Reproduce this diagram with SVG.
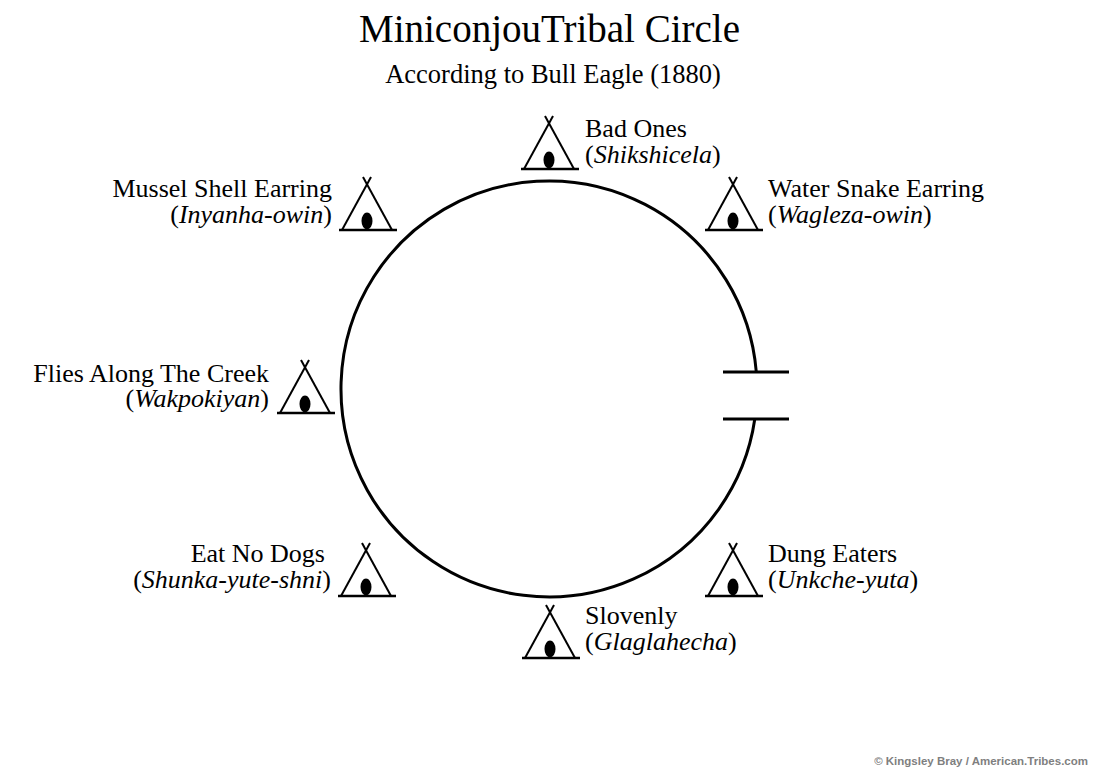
<svg xmlns="http://www.w3.org/2000/svg" width="1100" height="778" viewBox="0 0 1100 778">
<defs>
<style>
.t{font-family:"Liberation Serif","Times New Roman",serif;fill:#000;}
.lab{font-size:26px;}
.title{font-size:39px;}
.sub{font-size:26.5px;}
.pole{stroke:#000;stroke-width:2;fill:none;}
.base{stroke:#000;stroke-width:2.6;fill:none;}
.copy{font-family:"Liberation Sans",Arial,sans-serif;font-weight:bold;font-size:11.5px;fill:#7f7f7f;}
</style>
<g id="tipi">
<line class="pole" x1="-25" y1="0" x2="4" y2="-53"/>
<line class="pole" x1="25" y1="0" x2="-4" y2="-53"/>
<line class="base" x1="-28" y1="0" x2="30" y2="0"/>
<ellipse cx="0" cy="-9" rx="5.5" ry="8.5" fill="#000"/>
</g>
</defs>
<rect width="1100" height="778" fill="#fff"/>
<text class="t title" x="549.5" y="42" text-anchor="middle">MiniconjouTribal Circle</text>
<text class="t sub" x="553" y="83" text-anchor="middle">According to Bull Eagle (1880)</text>
<g id="connectors">
<path d="M 756.3 372 A 208 208 0 1 0 754.8 419" fill="none" stroke="#000" stroke-width="3"/>
<line x1="723" y1="372" x2="789" y2="372" stroke="#000" stroke-width="3"/>
<line x1="723" y1="419" x2="789" y2="419" stroke="#000" stroke-width="3"/>
</g>
<g id="bad-ones">
<use href="#tipi" x="549" y="169"/>
<text class="t lab" x="585" y="137">Bad Ones</text>
<text class="t lab" x="585" y="163">(<tspan font-style="italic">Shikshicela</tspan>)</text>
</g>
<g id="mussel-shell-earring">
<use href="#tipi" x="367" y="230"/>
<text class="t lab" x="332" y="197" text-anchor="end">Mussel Shell Earring</text>
<text class="t lab" x="332" y="223" text-anchor="end">(<tspan font-style="italic">Inyanha-owin</tspan>)</text>
</g>
<g id="water-snake-earring">
<use href="#tipi" x="733" y="230"/>
<text class="t lab" x="768" y="197">Water Snake Earring</text>
<text class="t lab" x="768" y="223">(<tspan font-style="italic">Wagleza-owin</tspan>)</text>
</g>
<g id="flies-along-the-creek">
<use href="#tipi" x="305" y="413"/>
<text class="t lab" x="269" y="382" text-anchor="end">Flies Along The Creek</text>
<text class="t lab" x="269" y="407" text-anchor="end">(<tspan font-style="italic">Wakpokiyan</tspan>)</text>
</g>
<g id="eat-no-dogs">
<use href="#tipi" x="366" y="596"/>
<text class="t lab" x="325" y="562" text-anchor="end">Eat No Dogs</text>
<text class="t lab" x="331" y="588" text-anchor="end">(<tspan font-style="italic">Shunka-yute-shni</tspan>)</text>
</g>
<g id="dung-eaters">
<use href="#tipi" x="733" y="596"/>
<text class="t lab" x="768" y="562">Dung Eaters</text>
<text class="t lab" x="768" y="588">(<tspan font-style="italic">Unkche-yuta</tspan>)</text>
</g>
<g id="slovenly">
<use href="#tipi" x="550" y="658"/>
<text class="t lab" x="585" y="624">Slovenly</text>
<text class="t lab" x="585" y="650">(<tspan font-style="italic">Glaglahecha</tspan>)</text>
</g>
<text class="copy" x="1088" y="765" text-anchor="end">© Kingsley Bray / American.Tribes.com</text>
</svg>
